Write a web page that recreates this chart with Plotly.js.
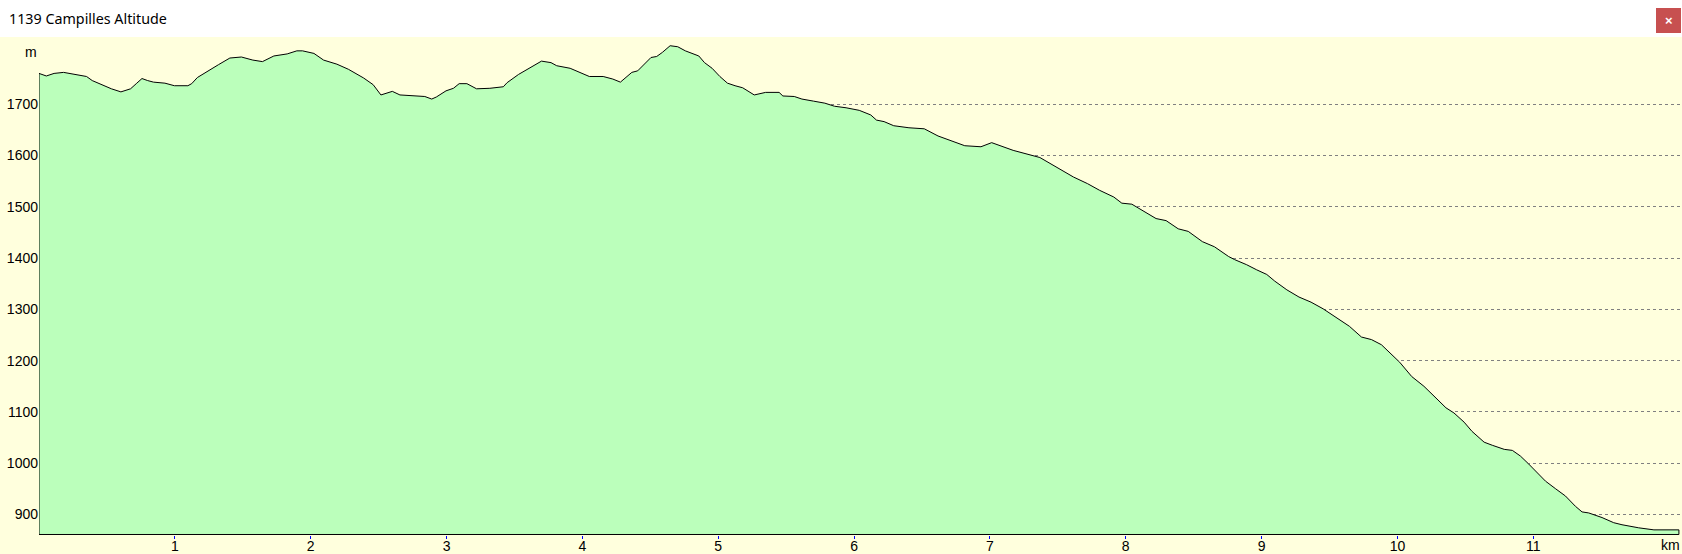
<!DOCTYPE html>
<html>
<head>
<meta charset="utf-8">
<script src="https://cdn.plot.ly/plotly-3.0.1.min.js"></script>
<style>
html,body{margin:0;padding:0;background:#fff;}
#chart{width:1682px;height:554px;}
</style>
</head>
<body>
<div id="chart"></div>
<script>
// ---- data ----
const chartTitle = "1139 Campilles Altitude";
const distanceKm = [
  0.0, 0.054, 0.111, 0.181, 0.279, 0.35, 0.392, 0.463, 0.533, 0.603,
  0.674, 0.716, 0.758, 0.8, 0.843, 0.927, 0.997, 1.096, 1.124, 1.166,
  1.237, 1.321, 1.405, 1.49, 1.574, 1.645, 1.729, 1.827, 1.898, 1.94,
  2.024, 2.095, 2.193, 2.278, 2.39, 2.46, 2.517, 2.601, 2.657, 2.77,
  2.84, 2.891, 2.925, 2.996, 3.051, 3.093, 3.15, 3.221, 3.319, 3.418,
  3.446, 3.53, 3.614, 3.699, 3.769, 3.811, 3.91, 3.994, 4.051, 4.153,
  4.224, 4.28, 4.322, 4.364, 4.407, 4.462, 4.505, 4.547, 4.589, 4.646,
  4.702, 4.758, 4.801, 4.857, 4.899, 4.955, 5.012, 5.068, 5.124, 5.18,
  5.265, 5.349, 5.448, 5.476, 5.56, 5.616, 5.701, 5.785, 5.856, 5.941,
  6.038, 6.123, 6.165, 6.221, 6.292, 6.404, 6.517, 6.618, 6.815, 6.934,
  7.013, 7.171, 7.368, 7.526, 7.615, 7.719, 7.808, 7.912, 7.971, 8.045,
  8.134, 8.223, 8.297, 8.386, 8.46, 8.564, 8.653, 8.757, 8.801, 8.89,
  8.964, 9.038, 9.097, 9.186, 9.275, 9.364, 9.453, 9.557, 9.646, 9.735,
  9.809, 9.882, 9.957, 10.016, 10.105, 10.195, 10.284, 10.357, 10.416, 10.491,
  10.549, 10.638, 10.698, 10.786, 10.846, 10.905, 10.964, 11.024, 11.09, 11.165,
  11.237, 11.31, 11.359, 11.408, 11.506, 11.592, 11.653, 11.776, 11.888, 12.072
];
const altitudeM = [
  1760, 1755, 1760, 1762, 1758, 1754, 1746, 1738, 1730, 1724,
  1730, 1740, 1750, 1746, 1743, 1741, 1736, 1736, 1740, 1752,
  1764, 1777, 1790, 1792, 1786, 1783, 1794, 1798, 1804, 1804,
  1799, 1786, 1778, 1768, 1751, 1738, 1718, 1725, 1718, 1717,
  1715, 1710, 1714, 1726, 1731, 1740, 1740, 1730, 1731, 1734,
  1742, 1758, 1771, 1784, 1781, 1775, 1770, 1760, 1754, 1754,
  1749, 1743, 1752, 1762, 1765, 1780, 1791, 1793, 1801, 1814,
  1812, 1804, 1799, 1794, 1781, 1770, 1754, 1741, 1736, 1732,
  1718, 1723, 1723, 1716, 1715, 1710, 1706, 1702, 1696, 1693,
  1688, 1679, 1669, 1666, 1658, 1654, 1652, 1638, 1619, 1617,
  1625, 1610, 1596, 1572, 1558, 1545, 1532, 1519, 1507, 1505,
  1491, 1477, 1473, 1457, 1452, 1432, 1422, 1403, 1397, 1387,
  1377, 1368, 1355, 1338, 1324, 1314, 1301, 1283, 1267, 1246,
  1241, 1231, 1212, 1197, 1169, 1150, 1127, 1108, 1098, 1080,
  1062, 1041, 1035, 1027, 1025, 1014, 999, 983, 965, 950,
  936, 916, 905, 903, 894, 884, 880, 874, 870, 870
];
const yTickVals = [900, 1000, 1100, 1200, 1300, 1400, 1500, 1600, 1700];
const xTickVals = [1, 2, 3, 4, 5, 6, 7, 8, 9, 10, 11];
const yAxisUnit = "m";
const xAxisUnit = "km";

// ---- build closed profile polygon on the axis floor ----
const yMin = 860, yMax = 1831;
const base = 861;
const lastX = distanceKm[distanceKm.length - 1];
const polyX = [distanceKm[0]].concat(distanceKm, [lastX, distanceKm[0]]);
const polyY = [base].concat(altitudeM, [base, base]);

const W = 1682, H = 554;
const M = {l: 39, r: 2, t: 37, b: 19};
const PW = W - M.l - M.r, PH = H - M.t - M.b;
// helpers: pixel position -> paper coordinates
const px = v => (v - M.l) / PW;
const py = v => (H - M.b - v) / PH;

const bgYellow = "rgb(255,255,221)";
const font = "Arial, 'Liberation Sans', sans-serif";

const trace = {
  x: polyX, y: polyY, type: "scatter", mode: "lines",
  fill: "toself", fillcolor: "rgb(187,255,187)",
  line: {color: "#000", width: 1},
  hoverinfo: "skip", showlegend: false
};

const layout = {
  width: W, height: H,
  margin: {l: M.l, r: M.r, t: M.t, b: M.b, pad: 0},
  paper_bgcolor: bgYellow, plot_bgcolor: bgYellow,
  showlegend: false,
  title: {
    text: chartTitle, x: 9 / W, xanchor: "left", xref: "container",
    y: 1 - 18.5 / H, yanchor: "middle", yref: "container",
    font: {family: "'Noto Sans', 'Segoe UI', sans-serif", size: 14.3, color: "#000"}
  },
  xaxis: {
    range: [0, 12.08], tickmode: "array", tickvals: xTickVals,
    ticks: "outside", ticklen: 3, tickcolor: "#0000ff", tickwidth: 1,
    ticklabelstandoff: -5,
    showgrid: false, zeroline: false, showline: false,
    tickfont: {family: font, size: 14, color: "#000"}, fixedrange: true
  },
  yaxis: {
    range: [yMin, yMax], tickmode: "array", tickvals: yTickVals,
    ticks: "", showgrid: true, gridcolor: "#808080", gridwidth: 1,
    griddash: "3px,3px", zeroline: false, showline: false,
    tickfont: {family: font, size: 14, color: "#000"}, fixedrange: true
  },
  shapes: [
    {type: "rect", xref: "paper", yref: "paper", x0: px(0), x1: px(W),
     y0: py(37), y1: py(0), fillcolor: "#fff", line: {width: 0}, layer: "below"},
    {type: "rect", xref: "paper", yref: "paper",
     x0: px(1656), x1: px(1681), y0: py(33), y1: py(8),
     fillcolor: "#c75050", line: {width: 0}}
  ],
  annotations: [
    {text: "<b>×</b>", xref: "paper", yref: "paper",
     x: px(1668.5), y: py(20.5),
     xanchor: "center", yanchor: "middle", showarrow: false,
     font: {family: font, size: 13, color: "#fff"}},
    {text: yAxisUnit, xref: "paper", yref: "paper",
     x: px(30.5), y: py(51.5),
     xanchor: "center", yanchor: "middle", showarrow: false,
     font: {family: font, size: 14, color: "#000"}},
    {text: xAxisUnit, xref: "paper", yref: "paper",
     x: px(1670), y: py(545),
     xanchor: "center", yanchor: "middle", showarrow: false,
     font: {family: font, size: 14, color: "#000"}}
  ]
};

Plotly.newPlot("chart", [trace], layout, {displayModeBar: false, staticPlot: true});
</script>
</body>
</html>
